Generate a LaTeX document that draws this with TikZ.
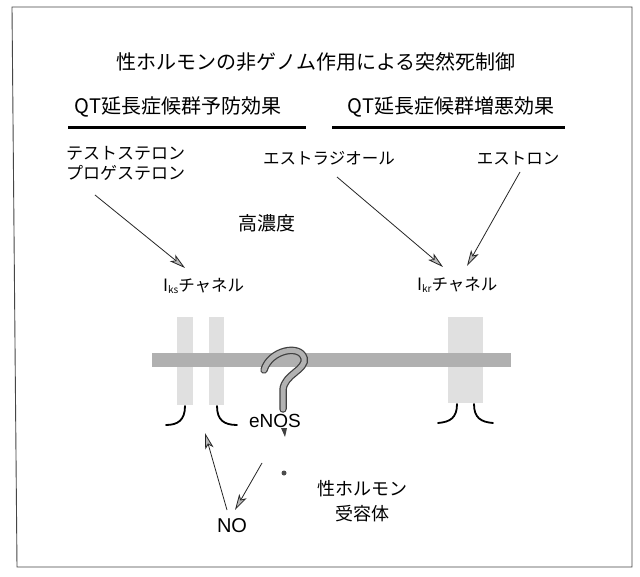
\documentclass[tikz,border=0pt]{standalone}
\usepackage{fontspec}
\setmainfont{Liberation Sans}
\newfontfamily\jp{Noto Sans CJK JP}
\usetikzlibrary{arrows.meta}
\begin{document}
\begin{tikzpicture}[x=1pt,y=-1pt,
  txt/.style={inner sep=0pt, font=\jp},
  feed/.style={draw=black!85, line width=0.8pt,
    -{Stealth[length=16pt,width=8.5pt,inset=4pt,fill=gray!55]}},
  lip/.style={line width=1.8pt, line cap=round},
  column/.style={fill=gray!24},
  heading/.style={line width=3pt}]
\useasboundingbox (0,0) rectangle (640,577);
\fill[white] (0,0) rectangle (640,577);

% outer frame
\draw[gray!55!black, line width=0.9pt] (12,7) -- (632,7) -- (632,567) -- (17,567) -- cycle;

% headings
\node[txt, font=\jp\fontsize{20pt}{24pt}\selectfont] (title) at (316,62) {性ホルモンの非ゲノム作用による突然死制御};
\node[txt, font=\jp\fontsize{20pt}{24pt}\selectfont] (prev) at (178,107) {QT延長症候群予防効果};
\node[txt, font=\jp\fontsize{20pt}{24pt}\selectfont] (worse) at (451,107) {QT延長症候群増悪効果};
\draw[heading] (68,128) -- (306,128);
\draw[heading] (332,128) -- (565,128);

% hormones
\node[txt, font=\jp\fontsize{17pt}{20pt}\selectfont, align=left, anchor=west] (testo) at (66,163) {テストステロン\\プロゲステロン};
\node[txt, font=\jp\fontsize{16.5pt}{20pt}\selectfont] (estra) at (329,158) {エストラジオール};
\node[txt, font=\jp\fontsize{16.5pt}{20pt}\selectfont] (estro) at (518,158) {エストロン};
\node[txt, font=\jp\fontsize{19pt}{22pt}\selectfont] (conc) at (267,223) {高濃度};

% channel labels
\node[txt, anchor=west, font=\jp\fontsize{16.5pt}{20pt}\selectfont] (iks) at (163,286)
  {{\fontsize{17pt}{20pt}\selectfont I}\raisebox{-1.5pt}{\fontsize{10pt}{12pt}\selectfont ks}チャネル};
\node[txt, anchor=west, font=\jp\fontsize{16.5pt}{20pt}\selectfont] (ikr) at (417,285)
  {{\fontsize{17pt}{20pt}\selectfont I}\raisebox{-1.5pt}{\fontsize{10pt}{12pt}\selectfont kr}チャネル};

% channel pores (behind the membrane)
\fill[column] (177,317) rectangle (193,405);
\fill[column] (209,317) rectangle (224,405);
\fill[column] (448,317) rectangle (483,403);

% membrane
\fill[gray!62] (152,353) rectangle (511,367);

% channel mouths
\draw[lip] (185,406) .. controls (185,420) and (178,425) .. (166,425);
\draw[lip] (217,406) .. controls (217,420) and (224,425) .. (237,425);
\draw[lip] (457,404) .. controls (457,418) and (450,422) .. (438,423);
\draw[lip] (474,404) .. controls (474,418) and (481,422) .. (493,423);

% eNOS hook
\draw[black!75, line width=7.5pt, line cap=round]
  (264,370) .. controls (270,350) and (300,344) .. (304,358)
  .. controls (307,370) and (284,374) .. (283,390) -- (283,409);
\draw[gray!60, line width=5pt, line cap=round]
  (264,370) .. controls (270,350) and (300,344) .. (304,358)
  .. controls (307,370) and (284,374) .. (283,390) -- (283,409);
\fill[black!75] (281,428) -- (287,428) -- (285,437) -- cycle;
\fill[black!70] (284,473) circle (2.5);

\node[inner sep=0pt, font=\fontsize{19pt}{22pt}\selectfont] (enos) at (275,421) {eNOS};
\node[inner sep=0pt, font=\fontsize{20pt}{24pt}\selectfont] (no) at (232,526) {NO};
\node[txt, font=\jp\fontsize{18pt}{25pt}\selectfont, align=center] (recep) at (362,501) {性ホルモン\\受容体};

% arrow end points
\coordinate (a1s) at (95,195);  \coordinate (a1e) at (185,268);
\coordinate (a2s) at (337,177); \coordinate (a2e) at (443,267);
\coordinate (a3s) at (520,172); \coordinate (a3e) at (467,266);
\coordinate (a4s) at (227,510); \coordinate (a4e) at (205,433);
\coordinate (a5s) at (262,463); \coordinate (a5e) at (235,510);

\draw[feed] (a1s) -- (a1e);
\draw[feed] (a2s) -- (a2e);
\draw[feed] (a3s) -- (a3e);
\draw[feed] (a4s) -- (a4e);
\draw[feed] (a5s) -- (a5e);
\end{tikzpicture}
\end{document}
